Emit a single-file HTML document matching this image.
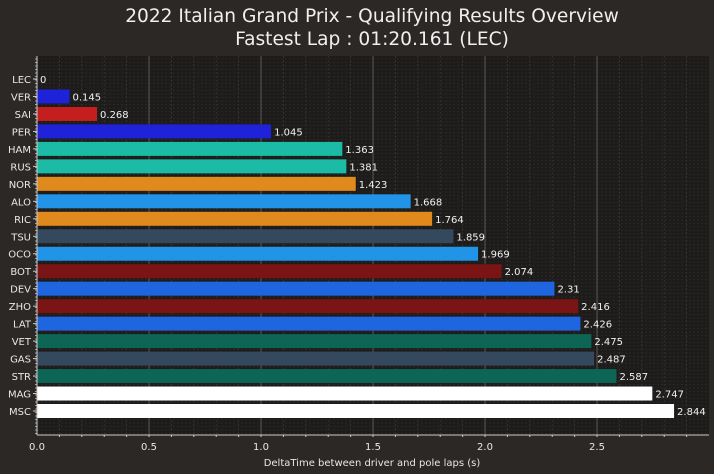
<!DOCTYPE html>
<html><head><meta charset="utf-8"><style>
body{margin:0;background:#2b2826;}
svg{display:block;font-family:"DejaVu Sans","Liberation Sans",sans-serif;}
</style></head><body>
<svg id="chart" width="714" height="474">
<rect width="714" height="474" fill="#2b2826"/>
<text x="372" y="22" fill="#f0f0f0" font-size="18.6" text-anchor="middle">2022 Italian Grand Prix - Qualifying Results Overview</text>
<text x="372" y="45" fill="#f0f0f0" font-size="18.6" text-anchor="middle">Fastest Lap : 01:20.161 (LEC)</text>
<rect x="37" y="56" width="672" height="379" fill="#1e1c1a"/>
<g id="grid"></g><g id="bars"></g><g id="axes"></g>
<text x="372" y="466" fill="#e8e8e8" font-size="10" text-anchor="middle">DeltaTime between driver and pole laps (s)</text>
</svg>
<script>
const drivers=["LEC","VER","SAI","PER","HAM","RUS","NOR","ALO","RIC","TSU","OCO","BOT","DEV","ZHO","LAT","VET","GAS","STR","MAG","MSC"];
const deltas=[0,0.145,0.268,1.045,1.363,1.381,1.423,1.668,1.764,1.859,1.969,2.074,2.31,2.416,2.426,2.475,2.487,2.587,2.747,2.844];
const colors=["#dc0000","#1e22d8","#c41e1e","#1e22d8","#1cbba6","#1cbba6","#e08a1e","#2294e8","#e08a1e","#34495e","#2294e8","#7b1414","#2065e0","#7b1414","#2065e0","#0d6655","#34495e","#0d6655","#ffffff","#ffffff"];
const xTicks=[0,0.5,1.0,1.5,2.0,2.5];
const xTickLabels=["0.0","0.5","1.0","1.5","2.0","2.5"];
const NS="http://www.w3.org/2000/svg";
const L=37,R=709,T=56,B=435;
const x=v=>L+v/3.0*(R-L);
const y=i=>79+i*(411-79)/19;
function mk(p,t,a){const e=document.createElementNS(NS,t);for(const k in a)e.setAttribute(k,a[k]);p.appendChild(e);return e;}
const grid=document.getElementById('grid'),bars=document.getElementById('bars'),axes=document.getElementById('axes');
for(let v=0.1;v<3;v+=0.1){const l=mk(grid,'line',{x1:x(v),x2:x(v),y1:T,y2:B,stroke:'#3a3836','stroke-dasharray':'2,2','stroke-width':0.8});


const tk=mk(axes,'line',{x1:x(v),x2:x(v),y1:B,y2:B+2,stroke:'#ccc'});

}
for(let yy=T+3;yy<B;yy+=3.5){const l=mk(grid,'line',{x1:L,x2:R,y1:yy,y2:yy,stroke:'#2e2c2a','stroke-dasharray':'2,2','stroke-width':0.8});


const tk=mk(axes,'line',{x1:L-2,x2:L,y1:yy,y2:yy,stroke:'#bbb','stroke-width':0.8});

}
xTicks.forEach((v,i)=>{const l=mk(grid,'line',{x1:x(v),x2:x(v),y1:T,y2:B,stroke:'#5a5856','stroke-width':1});


const t=mk(axes,'text',{x:x(v),y:B+15,fill:'#e8e8e8','font-size':10,'text-anchor':'middle'});t.textContent=xTickLabels[i];

});
drivers.forEach((d,i)=>{const cy=y(i);
const r=mk(bars,'rect',{x:L,y:cy-7,width:x(deltas[i])-L,height:14,fill:colors[i]});


const v=mk(bars,'text',{x:x(deltas[i])+3,y:cy+4,fill:'#f0f0f0','font-size':10});v.textContent=String(deltas[i]);


const t=mk(axes,'text',{x:L-6,y:cy+4,fill:'#e8e8e8','font-size':10,'text-anchor':'end'});t.textContent=d;


const tk=mk(axes,'line',{x1:L-4,x2:L,y1:cy,y2:cy,stroke:'#ccc'});

});
const ax=mk(axes,'line',{x1:L,x2:L,y1:T,y2:B,stroke:'#ccc'});


const bx=mk(axes,'line',{x1:L,x2:R,y1:B,y2:B,stroke:'#ccc'});


</script>
</body></html>
